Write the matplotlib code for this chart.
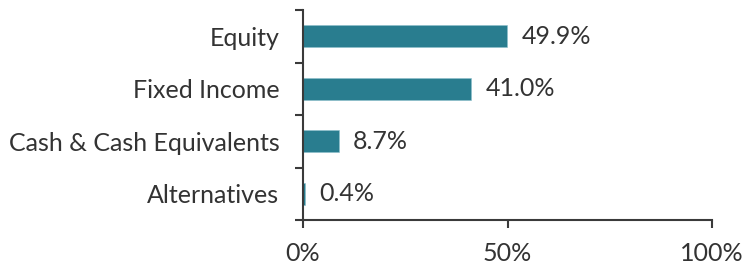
import matplotlib.pyplot as plt
import numpy as np

categories = ["Equity", "Fixed Income", "Cash & Cash Equivalents", "Alternatives"]
values = [49.9, 41.0, 8.7, 0.4]
xtick_values = [0, 50, 100]
xtick_labels = ["0%", "50%", "100%"]

bar_color = "#297d8f"
text_color = "#333333"
spine_color = "#3a3a3a"
fs = 18

plt.rcParams['font.family'] = ['Lato', 'DejaVu Sans']

fig = plt.figure(figsize=(7.44, 2.69), dpi=100)
ax = fig.add_axes([303 / 744, 49 / 269, 409 / 744, 210 / 269])

n = len(categories)
pos = np.arange(n)[::-1] + 0.5
ax.barh(pos, values, height=0.42, color=bar_color, edgecolor="#8cc0cc", linewidth=0.4)

for p, v in zip(pos, values):
    ax.annotate("{:.1f}%".format(v), xy=(v, p), xytext=(10.5, 0), textcoords="offset points",
                va="center", ha="left", fontsize=fs, color=text_color)

ax.set_xlim(0, 100)
ax.set_ylim(0, n)
ax.set_xticks(xtick_values)
ax.set_xticklabels(xtick_labels, fontsize=fs, color=text_color)

ax.set_yticks(np.arange(n + 1))
ax.set_yticklabels([])
ax.set_yticks(pos, minor=True)
ax.set_yticklabels(categories, minor=True, fontsize=fs, color=text_color)
ax.tick_params(axis="y", which="minor", length=0, pad=17)
ax.tick_params(axis="y", which="major", length=6, width=1.5, color=spine_color)
ax.tick_params(axis="x", length=6, width=1.5, color=spine_color, pad=10)

for side in ["top", "right"]:
    ax.spines[side].set_visible(False)
for side in ["left", "bottom"]:
    ax.spines[side].set_color(spine_color)
    ax.spines[side].set_linewidth(1.5)

fig.savefig("out.png", dpi=100)
